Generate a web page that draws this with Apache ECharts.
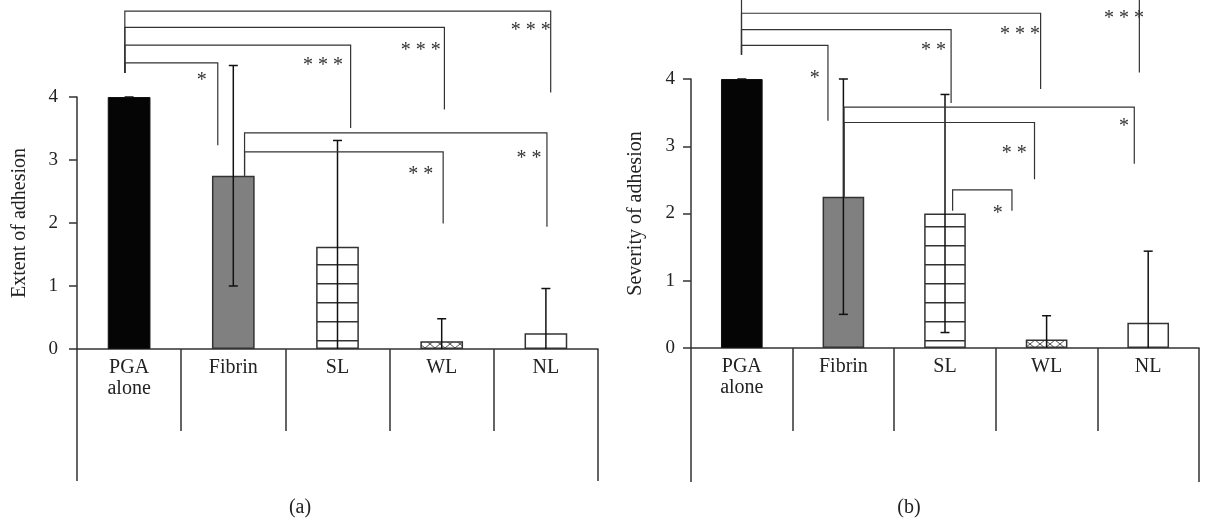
<!DOCTYPE html>
<html><head><meta charset="utf-8">
<script src="https://cdn.jsdelivr.net/npm/echarts@6/dist/echarts.min.js"></script>
<style>html,body{margin:0;padding:0;background:#fff}#c{width:1215px;height:523px}</style>
</head><body><div id="c"></div>
<script>
// ---- data ----
const categories = ['PGA\nalone', 'Fibrin', 'SL', 'WL', 'NL'];
const yTicks = [0, 1, 2, 3, 4];
const extentMean = [4.0, 2.75, 1.625, 0.125, 0.25];
const extentLow  = [4.0, 1.0, 0.0, 0.0, 0.0];
const extentHigh = [4.0, 4.5, 3.31, 0.48, 0.96];
const severityMean = [4.0, 2.25, 2.0, 0.125, 0.375];
const severityLow  = [4.0, 0.5, 0.23, 0.0, 0.0];
const severityHigh = [4.0, 4.0, 3.77, 0.48, 1.44];
const captions = ['(a)', '(b)'];
const yNames = ['Extent of adhesion', 'Severity of adhesion'];
// significance brackets (annotation, in axis units: x = category slot 0..5, y = value)
const bracketsA = [
  {label:'*',     x1:0.459, x2:1.351, top:4.543, yL:4.381, yR:3.234, lx:1.197, ly:4.317},
  {label:'* * *', x1:0.459, x2:2.626, top:4.825, yL:4.381, yR:3.509, lx:2.362, ly:4.566},
  {label:'* * *', x1:0.459, x2:3.526, top:5.105, yL:4.381, yR:3.801, lx:3.298, ly:4.804},
  {label:'* * *', x1:0.459, x2:4.546, top:5.364, yL:4.381, yR:4.070, lx:4.354, ly:5.110},
  {label:'* *',   x1:1.608, x2:4.510, top:3.430, yL:2.75,  yR:1.939, lx:4.337, ly:3.076},
  {label:'* *',   x1:1.608, x2:3.514, top:3.128, yL:2.75,  yR:1.993, lx:3.298, ly:2.827}
];
const bracketsB = [
  {label:'*',     x1:0.497, x2:1.348, top:4.501, yL:4.362, yR:3.379, lx:1.219, ly:4.064},
  {label:'* *',   x1:0.497, x2:2.560, top:4.735, yL:4.362, yR:3.642, lx:2.387, ly:4.486},
  {label:'* * *', x1:0.497, x2:3.441, top:4.978, yL:4.362, yR:3.851, lx:3.238, ly:4.720},
  {label:'* * *', x1:0.497, x2:4.413, top:5.216, yL:4.362, yR:4.098, lx:4.262, ly:4.958},
  {label:'*',     x1:1.506, x2:4.363, top:3.583, yL:2.25,  yR:2.738, lx:4.262, ly:3.344},
  {label:'* *',   x1:1.506, x2:3.381, top:3.353, yL:2.25,  yR:2.510, lx:3.181, ly:2.946},
  {label:'*',     x1:2.575, x2:3.159, top:2.350, yL:2.042, yR:2.042, lx:3.020, ly:2.063}
];

// ---- styles ----
const FONT = '"Liberation Serif", "DejaVu Serif", serif';
const AX = '#333';
const TXT = '#222';

function hLinePattern() {
  const c = document.createElement('canvas'); c.width = 4; c.height = 19;
  const g = c.getContext('2d'); g.fillStyle = '#fff'; g.fillRect(0,0,4,19);
  g.fillStyle = '#333'; g.fillRect(0,17,4,1.5); return c;
}
function crossPattern() {
  const c = document.createElement('canvas'); c.width = 10; c.height = 8;
  const g = c.getContext('2d'); g.fillStyle = '#fff'; g.fillRect(0,0,10,8);
  g.strokeStyle = '#555'; g.lineWidth = 1;
  g.beginPath(); g.moveTo(0,0); g.lineTo(10,8); g.moveTo(0,8); g.lineTo(10,0); g.stroke(); return c;
}
const barStyles = [
  {color:'#050505', borderColor:'#111', borderWidth:1},
  {color:'#808080', borderColor:'#333', borderWidth:1.5},
  {color:{image:hLinePattern(), repeat:'repeat'}, borderColor:'#333', borderWidth:1.5},
  {color:{image:crossPattern(), repeat:'repeat'}, borderColor:'#333', borderWidth:1.5},
  {color:'#fff', borderColor:'#333', borderWidth:1.5}
];

function errRender(params, api) {
  const x = api.value(0), lo = api.value(1), hi = api.value(2);
  const pH = api.coord([x, hi]), pL = api.coord([x, lo]);
  const hw = 4.5, st = {stroke:'#111', lineWidth:1.5};
  const ch = [
    {type:'line', shape:{x1:pH[0], y1:pH[1], x2:pL[0], y2:pL[1]}, style:st},
    {type:'line', shape:{x1:pH[0]-hw, y1:pH[1], x2:pH[0]+hw, y2:pH[1]}, style:st}
  ];
  if (lo > 0.01 && lo < hi) ch.push({type:'line', shape:{x1:pL[0]-hw, y1:pL[1], x2:pL[0]+hw, y2:pL[1]}, style:st});
  return {type:'group', children:ch};
}
function bracketRender(list) {
  return function (params, api) {
    const v = i => api.value(i);
    const a = api.coord([v(0), v(2)]), b = api.coord([v(1), v(2)]);
    const aL = api.coord([v(0), v(3)]), bR = api.coord([v(1), v(4)]);
    const lab = api.coord([v(5), v(6)]);
    return {type:'group', children:[
      {type:'polyline', shape:{points:[[aL[0],aL[1]],[a[0],a[1]],[b[0],b[1]],[bR[0],bR[1]]]},
       style:{stroke:'#333', lineWidth:1.2, fill:'none'}},
      {type:'text', x:lab[0], y:lab[1] + 4,
       style:{text:list[params.dataIndex].label, align:'center', verticalAlign:'middle',
              font:'20px ' + FONT, fill:'#333'}}
    ]};
  };
}

const grids = [
  {left:77, top:97, width:521, height:252},
  {left:691, top:79, width:508, height:269}
];
function catAxis(g, tickLen) {
  return {type:'category', gridIndex:g, position:'bottom', data:categories,
    axisLine:{lineStyle:{color:AX, width:1.5}},
    axisTick:{show:true, length:tickLen, lineStyle:{color:AX, width:1.5}},
    axisLabel:{margin:8, fontSize:20, lineHeight:21, color:TXT, fontFamily:FONT}};
}
function edgeAxis(g, tickLen) {
  return {type:'value', gridIndex:g, position:'bottom', min:0, max:5, interval:5,
    axisLine:{show:false}, axisLabel:{show:false}, splitLine:{show:false},
    axisTick:{show:true, length:tickLen, lineStyle:{color:AX, width:1.5}}};
}
function valAxis(g, margin, name, gap) {
  return {type:'value', gridIndex:g, min:yTicks[0], max:yTicks[yTicks.length-1], interval:1,
    axisLine:{show:true, lineStyle:{color:AX, width:1.5}},
    axisTick:{show:true, length:8, lineStyle:{color:AX, width:1.5}},
    splitLine:{show:false},
    axisLabel:{margin:margin, fontSize:19, color:TXT, fontFamily:FONT},
    name:name, nameLocation:'middle', nameGap:gap,
    nameTextStyle:{fontSize:20, color:TXT, fontFamily:FONT}};
}
function panelSeries(g, mean, low, high, brackets) {
  return [
    {type:'bar', xAxisIndex:g*2, yAxisIndex:g, barWidth:'41%', z:2, silent:true,
     data:mean.map((v,i)=>({value:v, itemStyle:barStyles[i]}))},
    {type:'custom', xAxisIndex:g*2, yAxisIndex:g, z:3, silent:true, renderItem:errRender,
     data:mean.map((_,i)=>[i, low[i], high[i]])},
    {type:'custom', xAxisIndex:g*2+1, yAxisIndex:g, z:4, silent:true, clip:false,
     renderItem:bracketRender(brackets),
     data:brackets.map(b=>[b.x1, b.x2, b.top, b.yL, b.yR, b.lx, b.ly])}
  ];
}

const chart = echarts.init(document.getElementById('c'), null, {renderer:'canvas'});
chart.setOption({
  animation:false,
  backgroundColor:'#fff',
  grid:grids,
  xAxis:[catAxis(0, 82), edgeAxis(0, 132), catAxis(1, 83), edgeAxis(1, 134)],
  yAxis:[valAxis(0, 19, yNames[0], 47), valAxis(1, 16, yNames[1], 45)],
  series:[].concat(
    panelSeries(0, extentMean, extentLow, extentHigh, bracketsA),
    panelSeries(1, severityMean, severityLow, severityHigh, bracketsB)
  ),
  graphic:[
    {type:'text', x:300, y:508, style:{text:captions[0], align:'center', verticalAlign:'middle', font:'20px ' + FONT, fill:TXT}},
    {type:'text', x:909, y:508, style:{text:captions[1], align:'center', verticalAlign:'middle', font:'20px ' + FONT, fill:TXT}}
  ]
});
</script></body></html>
